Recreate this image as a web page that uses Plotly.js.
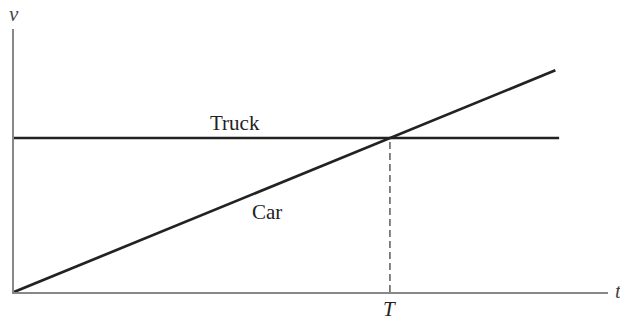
<!DOCTYPE html>
<html>
<head>
<meta charset="utf-8">
<script src="https://cdn.plot.ly/plotly-3.0.1.min.js"></script>
<style>
  html, body { margin: 0; padding: 0; background: #fff; }
  #chart { width: 620px; height: 322px; }
</style>
</head>
<body>
<div id="chart"></div>
<script>
// values (T = 1, truck speed = 1)
var carT = [0, 1.44];
var carV = [0, 1.44];
var truckT = [0, 1.45];
var truckV = [1, 1];
var meetT = [1, 1];
var meetV = [0, 1];

var labels = ['Truck', 'Car'];
var labelT = [0.588, 0.673];
var labelV = [1.1, 0.52];

var car = {
  x: carT, y: carV, mode: 'lines', type: 'scatter',
  line: {color: '#222', width: 2.7}, hoverinfo: 'skip'
};
var truck = {
  x: truckT, y: truckV, mode: 'lines', type: 'scatter',
  line: {color: '#222', width: 2.7}, hoverinfo: 'skip'
};
var meet = {
  x: meetT, y: meetV, mode: 'lines', type: 'scatter',
  line: {color: '#333', width: 1.2, dash: '7px,4px'}, hoverinfo: 'skip'
};

var serif = 'Liberation Serif, Times New Roman, serif';
var notes = [];
for (var i = 0; i < labels.length; i++) {
  notes.push({
    x: labelT[i], y: labelV[i], xref: 'x', yref: 'y', text: labels[i],
    showarrow: false, font: {family: serif, size: 21, color: '#222'}
  });
}
// axis letters (anchors set, 'auto' pushes them inward at the paper edges)
notes.push({x: 1, y: 0, xref: 'x', yref: 'y', yshift: -17, text: '<i>T</i>',
  showarrow: false, font: {family: serif, size: 21, color: '#222'}});
notes.push({x: 0, y: 1, xref: 'paper', yref: 'paper', xanchor: 'center', yanchor: 'middle',
  xshift: 0, yshift: 15, text: '<i>v</i>', showarrow: false,
  font: {family: serif, size: 21, color: '#444'}});
notes.push({x: 1, y: 0, xref: 'paper', yref: 'paper', xanchor: 'center', yanchor: 'middle',
  xshift: 10, yshift: 1, text: '<i>t</i>', showarrow: false,
  font: {family: serif, size: 21, color: '#444'}});

var layout = {
  width: 620, height: 322,
  margin: {l: 14, r: 12, t: 29, b: 30},
  paper_bgcolor: '#fff', plot_bgcolor: '#fff',
  showlegend: false,
  xaxis: {
    range: [0, 1.58], showgrid: false, zeroline: false,
    showticklabels: false, ticks: '',
    showline: true, linecolor: '#888', linewidth: 1.6
  },
  yaxis: {
    range: [0, 1.708], showgrid: false, zeroline: false,
    showticklabels: false, ticks: '',
    showline: true, linecolor: '#888', linewidth: 1.6
  },
  annotations: notes
};

Plotly.newPlot('chart', [meet, truck, car], layout, {staticPlot: true});
</script>
</body>
</html>
